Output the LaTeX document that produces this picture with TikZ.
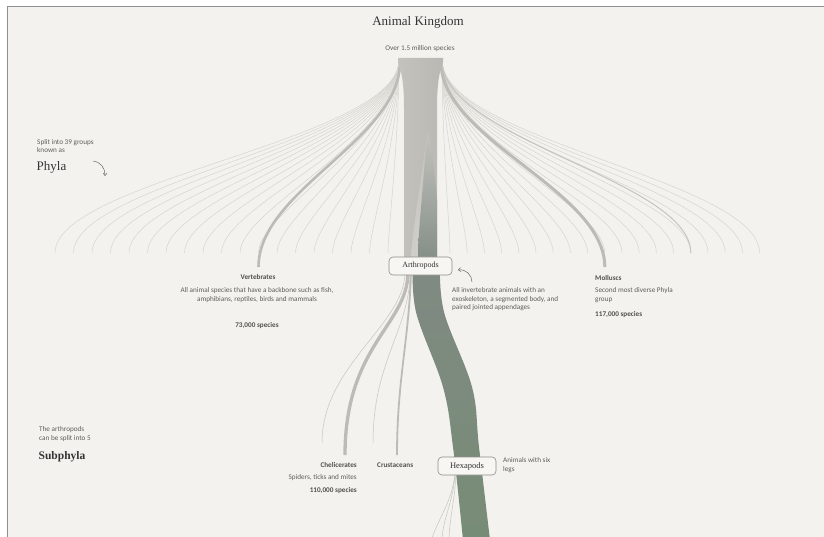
\documentclass[tikz,border=0pt]{standalone}
\usepackage{fontspec}
\setmainfont{Liberation Serif}
\newfontfamily\sansf{Carlito}
\usetikzlibrary{arrows.meta}
\definecolor{bg}{HTML}{F3F2EE}
\definecolor{bordc}{HTML}{8F8F8F}
\definecolor{phyl}{HTML}{D6D4CF}
\definecolor{phylmid}{HTML}{C6C4BF}
\definecolor{phylthick}{HTML}{BDBBB6}
\definecolor{trunkg}{HTML}{C3C2BD}
\definecolor{trunkd}{HTML}{B9B8B3}
\definecolor{trunkl}{HTML}{D0CFCA}
\definecolor{armg}{HTML}{838D86}
\definecolor{bandtop}{HTML}{808A83}
\definecolor{bandbot}{HTML}{778C76}
\definecolor{boxf}{HTML}{F7F6F2}
\definecolor{boxd}{HTML}{8E8C87}
\definecolor{txt}{HTML}{5F5E59}
\definecolor{txtb}{HTML}{52514C}
\definecolor{titlec}{HTML}{333333}
\definecolor{arrc}{HTML}{6A6A6A}
\begin{document}
\begin{tikzpicture}[x=1pt,y=-1pt,
  phylum/.style={draw=phyl, line width=0.5},
  lbl/.style={font=\sansf\fontsize{7.2}{8.5}\selectfont, text=txt, inner sep=0},
  lblb/.style={font=\sansf\bfseries\fontsize{7.2}{8.5}\selectfont, text=txtb, inner sep=0},
  boxn/.style={draw=boxd, fill=boxf, rounded corners=4, line width=0.6, inner sep=0, font=\fontsize{8}{9}\selectfont, text=titlec},
  arr/.style={draw=arrc, line width=0.5, -{Straight Barb[length=2.5pt,width=4pt]}}
]
\useasboundingbox (0,0) rectangle (824,537);
\fill[white] (0,0) rectangle (824,537);
\fill[bg] (7.5,6.5) rectangle (824,537);
\draw[bordc, line width=1.5] (7.5,537) -- (7.5,6.5) -- (824,6.5);

% phyla lines, left
\foreach \i in {0,...,18}{
  \pgfmathsetmacro{\xe}{55+18.5*\i}
  \pgfmathsetmacro{\cy}{233-53*((400-\xe)/345)}
  \coordinate (L\i) at (\xe,253);
  \draw[phylum] (399,60) .. controls (399,140) and (\xe,\cy) .. (L\i);
}
% phyla lines, right
\foreach \j in {0,...,18}{
  \pgfmathsetmacro{\xe}{450+17.2*\j}
  \pgfmathsetmacro{\cy}{233-53*((\xe-440)/320)}
  \coordinate (R\j) at (\xe,253);
  \draw[phylum] (442,60) .. controls (442,140) and (\xe,\cy) .. (R\j);
}
% emphasised phyla
\coordinate (vert) at (258.5,267);
\coordinate (moll) at (604.8,267);
\coordinate (r14) at (690.8,253);
\draw[draw=phylthick, line width=2.6] (400,62) .. controls (400,140) and (258.5,190) .. (vert);
\draw[draw=phylthick, line width=3] (441,62) .. controls (441,140) and (604.8,190) .. (moll);
\draw[draw=phylmid, line width=1] (442,60) .. controls (442,140) and (690.8,180) .. (r14);

% trunk
\shade[left color=trunkg, right color=trunkd]
  (398,58) -- (443,58) -- (443,62) .. controls (438,75) and (437,90) .. (437,110)
  -- (437,262) -- (404,262) -- (404,110) .. controls (404,90) and (403,75) .. (398,62) -- cycle;
\shade[top color=trunkg, bottom color=trunkl]
  (426,140) .. controls (420,190) and (412,230) .. (411,262) -- (419,262)
  .. controls (420,230) and (424,190) .. (428,140) -- cycle;
\shade[top color=trunkg, bottom color=armg]
  (427,135) .. controls (423,190) and (418,230) .. (418,262) -- (437,262) -- (437,200)
  .. controls (435,170) and (431,150) .. (429,135) -- cycle;

% arthropods band down to hexapods
\shade[top color=bandtop, bottom color=bandbot]
  plot[smooth, tension=0.6] coordinates {(413,262) (416,312) (443,387) (453,447) (463,540)}
  -- plot[smooth, tension=0.6] coordinates {(490,540) (479,447) (472,387) (444,312) (440,262)} -- cycle;

% subphyla lines
\coordinate (sa) at (322,443);
\coordinate (sb) at (345,455);
\coordinate (sc) at (373,443);
\coordinate (sd) at (397,455);
\draw[phylmid, line width=0.5] (405,272) .. controls (405,325) and (322,365) .. (sa);
\draw[phylthick, line width=3.3] (408,272) .. controls (408,325) and (345,345) .. (sb);
\draw[phylmid, line width=0.5] (410,272) .. controls (410,330) and (373,360) .. (sc);
\draw[phylthick, line width=1.8] (411,272) .. controls (409,340) and (397,380) .. (sd);

% lines under hexapods
\coordinate (h1) at (432,538);
\coordinate (h2) at (442,538);
\coordinate (h3) at (449,538);
\draw[phylmid, line width=0.5] (455,472) .. controls (453,500) and (440,515) .. (h1);
\draw[phylmid, line width=0.5] (455,472) .. controls (454,500) and (444,515) .. (h2);
\draw[phylmid, line width=0.5] (456,472) .. controls (455,500) and (450,515) .. (h3);

% boxes
\node[boxn, minimum width=63, minimum height=18] (arth) at (420.5,266) {Arthropods};
\node[boxn, minimum width=58, minimum height=18, font=\fontsize{8.5}{9}\selectfont] (hexa) at (467,466) {Hexapods};

% titles
\node[inner sep=0, anchor=base, font=\fontsize{13}{15}\selectfont, text=titlec] (title) at (418,26) {Animal Kingdom};
\node[lbl, anchor=base] (over) at (420,50.5) {Over 1.5 million species};

% left notes
\node[lbl, anchor=base west] (split1) at (37,144.5) {Split into 39 groups};
\node[lbl, anchor=base west] (split2) at (37,152.5) {known as};
\node[inner sep=0, anchor=base west, font=\fontsize{13}{14}\selectfont, text=titlec] (phyla) at (36.5,171) {Phyla};
\node[lbl, anchor=base west] (arth1) at (39,431.5) {The arthropods};
\node[lbl, anchor=base west] (arth2) at (39,440) {can be split into 5};
\node[inner sep=0, anchor=base west, font=\bfseries\fontsize{11.5}{13}\selectfont, text=titlec] (subph) at (38.5,459) {Subphyla};

% arrows
\coordinate (pa) at (93,161);
\coordinate (pb) at (105,176);
\draw[arr] (pa) .. controls (101,162) and (105,168) .. (pb);
\coordinate (aa) at (472,282);
\coordinate (ab) at (458,270);
\draw[arr] (aa) .. controls (472,275) and (466,269) .. (ab);

% vertebrates
\node[lblb, anchor=base] (vt) at (258,279.5) {Vertebrates};
\node[lbl, anchor=base] (vd1) at (257,292) {All animal species that have a backbone such as fish,};
\node[lbl, anchor=base] (vd2) at (257,301) {amphibians, reptiles, birds and mammals};
\node[lblb, anchor=base] (vs) at (257,327.5) {73,000 species};

% arthropods description
\node[lbl, anchor=base west] (ad1) at (452,292.5) {All invertebrate animals with an};
\node[lbl, anchor=base west] (ad2) at (452,301) {exoskeleton, a segmented body, and};
\node[lbl, anchor=base west] (ad3) at (452,309.5) {paired jointed appendages};

% molluscs
\node[lblb, anchor=base west] (mt) at (595,280.5) {Molluscs};
\node[lbl, anchor=base west] (md1) at (595,292.5) {Second most diverse Phyla};
\node[lbl, anchor=base west] (md2) at (595,301) {group};
\node[lblb, anchor=base west] (ms) at (595,316.5) {117,000 species};

% chelicerates / crustaceans
\node[lblb, anchor=base east] (ct) at (357,467.5) {Chelicerates};
\node[lbl, anchor=base east] (cd) at (357,479.5) {Spiders, ticks and mites};
\node[lblb, anchor=base east] (cs) at (357,492.5) {110,000 species};
\node[lblb, anchor=base west] (crt) at (377,467.5) {Crustaceans};

% hexapods description
\node[lbl, anchor=base west] (hd1) at (503,462.5) {Animals with six};
\node[lbl, anchor=base west] (hd2) at (503,471.5) {legs};
\end{tikzpicture}
\end{document}
